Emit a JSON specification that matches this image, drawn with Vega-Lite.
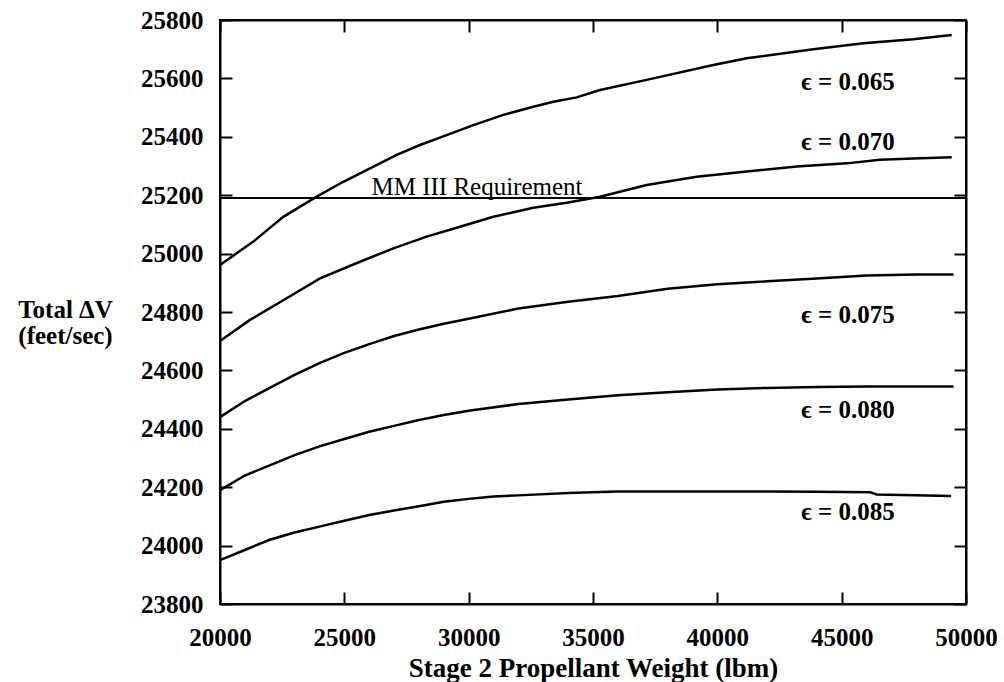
{
  "$schema": "https://vega.github.io/schema/vega-lite/v6.json",
  "width": 746,
  "height": 584,
  "autosize": "none",
  "padding": {"left": 220, "top": 20, "right": 38, "bottom": 78},
  "background": "white",
  "config": {
    "view": {"stroke": "black", "strokeWidth": 2},
    "axis": {
      "domainColor": "black", "domainWidth": 2,
      "tickColor": "black", "tickWidth": 2, "tickSize": -12,
      "grid": false,
      "labelFont": "Liberation Serif", "labelFontWeight": "bold", "labelFontSize": 25, "labelColor": "black",
      "labelOverlap": false, "labelFlush": false,
      "titleFont": "Liberation Serif", "titleFontWeight": "bold", "titleFontSize": 27, "titleColor": "black"
    }
  },
  "datasets": {
    "curves": [
      {"eps": "0.065", "w": 20000, "dv": 24961},
      {"eps": "0.065", "w": 21340, "dv": 25041},
      {"eps": "0.065", "w": 22547, "dv": 25126},
      {"eps": "0.065", "w": 23887, "dv": 25195},
      {"eps": "0.065", "w": 24960, "dv": 25246},
      {"eps": "0.065", "w": 26032, "dv": 25292},
      {"eps": "0.065", "w": 27105, "dv": 25338},
      {"eps": "0.065", "w": 28043, "dv": 25372},
      {"eps": "0.065", "w": 29115, "dv": 25406},
      {"eps": "0.065", "w": 30188, "dv": 25440},
      {"eps": "0.065", "w": 31394, "dv": 25475},
      {"eps": "0.065", "w": 32600, "dv": 25503},
      {"eps": "0.065", "w": 33405, "dv": 25520},
      {"eps": "0.065", "w": 34343, "dv": 25535},
      {"eps": "0.065", "w": 35282, "dv": 25560},
      {"eps": "0.065", "w": 37158, "dv": 25595},
      {"eps": "0.065", "w": 39839, "dv": 25646},
      {"eps": "0.065", "w": 41180, "dv": 25669},
      {"eps": "0.065", "w": 43861, "dv": 25700},
      {"eps": "0.065", "w": 45871, "dv": 25720},
      {"eps": "0.065", "w": 47882, "dv": 25734},
      {"eps": "0.065", "w": 49424, "dv": 25749},

      {"eps": "0.070", "w": 20000, "dv": 24701},
      {"eps": "0.070", "w": 21207, "dv": 24773},
      {"eps": "0.070", "w": 22681, "dv": 24847},
      {"eps": "0.070", "w": 24022, "dv": 24915},
      {"eps": "0.070", "w": 25630, "dv": 24972},
      {"eps": "0.070", "w": 26971, "dv": 25018},
      {"eps": "0.070", "w": 28311, "dv": 25058},
      {"eps": "0.070", "w": 29652, "dv": 25092},
      {"eps": "0.070", "w": 30992, "dv": 25126},
      {"eps": "0.070", "w": 32601, "dv": 25157},
      {"eps": "0.070", "w": 33941, "dv": 25174},
      {"eps": "0.070", "w": 35282, "dv": 25195},
      {"eps": "0.070", "w": 37158, "dv": 25235},
      {"eps": "0.070", "w": 39170, "dv": 25263},
      {"eps": "0.070", "w": 41180, "dv": 25281},
      {"eps": "0.070", "w": 43191, "dv": 25298},
      {"eps": "0.070", "w": 45201, "dv": 25309},
      {"eps": "0.070", "w": 46541, "dv": 25321},
      {"eps": "0.070", "w": 47882, "dv": 25326},
      {"eps": "0.070", "w": 49424, "dv": 25330},

      {"eps": "0.075", "w": 20000, "dv": 24440},
      {"eps": "0.075", "w": 21000, "dv": 24495},
      {"eps": "0.075", "w": 22000, "dv": 24540},
      {"eps": "0.075", "w": 23000, "dv": 24585},
      {"eps": "0.075", "w": 24000, "dv": 24625},
      {"eps": "0.075", "w": 25000, "dv": 24660},
      {"eps": "0.075", "w": 26000, "dv": 24690},
      {"eps": "0.075", "w": 27000, "dv": 24718},
      {"eps": "0.075", "w": 28000, "dv": 24740},
      {"eps": "0.075", "w": 29000, "dv": 24760},
      {"eps": "0.075", "w": 30000, "dv": 24777},
      {"eps": "0.075", "w": 32000, "dv": 24812},
      {"eps": "0.075", "w": 34000, "dv": 24835},
      {"eps": "0.075", "w": 36000, "dv": 24855},
      {"eps": "0.075", "w": 38000, "dv": 24880},
      {"eps": "0.075", "w": 40000, "dv": 24895},
      {"eps": "0.075", "w": 42000, "dv": 24905},
      {"eps": "0.075", "w": 44000, "dv": 24915},
      {"eps": "0.075", "w": 46000, "dv": 24925},
      {"eps": "0.075", "w": 48000, "dv": 24928},
      {"eps": "0.075", "w": 49500, "dv": 24928},

      {"eps": "0.080", "w": 20000, "dv": 24190},
      {"eps": "0.080", "w": 21000, "dv": 24240},
      {"eps": "0.080", "w": 22000, "dv": 24275},
      {"eps": "0.080", "w": 23000, "dv": 24310},
      {"eps": "0.080", "w": 24000, "dv": 24340},
      {"eps": "0.080", "w": 25000, "dv": 24365},
      {"eps": "0.080", "w": 26000, "dv": 24390},
      {"eps": "0.080", "w": 27000, "dv": 24410},
      {"eps": "0.080", "w": 28000, "dv": 24430},
      {"eps": "0.080", "w": 29000, "dv": 24447},
      {"eps": "0.080", "w": 30000, "dv": 24462},
      {"eps": "0.080", "w": 32000, "dv": 24485},
      {"eps": "0.080", "w": 34000, "dv": 24500},
      {"eps": "0.080", "w": 36000, "dv": 24515},
      {"eps": "0.080", "w": 38000, "dv": 24525},
      {"eps": "0.080", "w": 40000, "dv": 24535},
      {"eps": "0.080", "w": 42000, "dv": 24540},
      {"eps": "0.080", "w": 44000, "dv": 24543},
      {"eps": "0.080", "w": 46000, "dv": 24545},
      {"eps": "0.080", "w": 48000, "dv": 24545},
      {"eps": "0.080", "w": 49500, "dv": 24545},

      {"eps": "0.085", "w": 20000, "dv": 23950},
      {"eps": "0.085", "w": 21000, "dv": 23985},
      {"eps": "0.085", "w": 22000, "dv": 24020},
      {"eps": "0.085", "w": 23000, "dv": 24045},
      {"eps": "0.085", "w": 24000, "dv": 24065},
      {"eps": "0.085", "w": 25000, "dv": 24085},
      {"eps": "0.085", "w": 26000, "dv": 24105},
      {"eps": "0.085", "w": 27000, "dv": 24120},
      {"eps": "0.085", "w": 28000, "dv": 24135},
      {"eps": "0.085", "w": 29000, "dv": 24150},
      {"eps": "0.085", "w": 30000, "dv": 24160},
      {"eps": "0.085", "w": 31000, "dv": 24168},
      {"eps": "0.085", "w": 32000, "dv": 24172},
      {"eps": "0.085", "w": 34000, "dv": 24180},
      {"eps": "0.085", "w": 36000, "dv": 24185},
      {"eps": "0.085", "w": 38000, "dv": 24185},
      {"eps": "0.085", "w": 40000, "dv": 24185},
      {"eps": "0.085", "w": 42000, "dv": 24185},
      {"eps": "0.085", "w": 44000, "dv": 24184},
      {"eps": "0.085", "w": 46140, "dv": 24183},
      {"eps": "0.085", "w": 46408, "dv": 24175},
      {"eps": "0.085", "w": 49400, "dv": 24170}
    ],
    "labels": [
      {"text": "ϵ = 0.065", "w": 45254, "dv": 25588},
      {"text": "ϵ = 0.070", "w": 45254, "dv": 25382},
      {"text": "ϵ = 0.075", "w": 45254, "dv": 24790},
      {"text": "ϵ = 0.080", "w": 45254, "dv": 24465},
      {"text": "ϵ = 0.085", "w": 45254, "dv": 24115}
    ]
  },
  "layer": [
    {
      "data": {"name": "curves"},
      "mark": {"type": "line", "color": "black", "strokeWidth": 2.5},
      "encoding": {
        "x": {
          "field": "w", "type": "quantitative",
          "scale": {"domain": [20000, 50000], "nice": false, "zero": false},
          "axis": {
            "orient": "bottom",
            "values": [20000, 25000, 30000, 35000, 40000, 45000, 50000],
            "format": "d", "labelPadding": 33,
            "title": "Stage 2 Propellant Weight (lbm)",
            "titleY": 72, "titleBaseline": "alphabetic"
          }
        },
        "y": {
          "field": "dv", "type": "quantitative",
          "scale": {"domain": [23800, 25800], "nice": false, "zero": false},
          "axis": {
            "orient": "left",
            "values": [23800, 24000, 24200, 24400, 24600, 24800, 25000, 25200, 25400, 25600, 25800],
            "format": "d", "labelPadding": 29,
            "title": ["Total ΔV", "(feet/sec)"],
            "titleFontSize": 25,
            "titleAngle": 0, "titleX": -155, "titleY": 289,
            "titleAlign": "center", "titleBaseline": "middle", "titleLineHeight": 26
          }
        },
        "detail": {"field": "eps"}
      }
    },
    {
      "data": {"values": [{"req": 25190}]},
      "mark": {"type": "rule", "color": "black", "strokeWidth": 2},
      "encoding": {
        "y": {
          "field": "req", "type": "quantitative",
          "axis": {
            "orient": "right",
            "values": [23800, 24000, 24200, 24400, 24600, 24800, 25000, 25200, 25400, 25600, 25800],
            "labels": false, "title": null
          }
        }
      }
    },
    {
      "data": {"values": [{"text": "MM III Requirement", "w": 30335, "dv": 25190}]},
      "mark": {"type": "text", "font": "Liberation Serif", "fontSize": 25, "color": "black", "align": "center", "baseline": "alphabetic", "dy": -3},
      "encoding": {
        "x": {
          "field": "w", "type": "quantitative",
          "axis": {
            "orient": "top",
            "values": [20000, 25000, 30000, 35000, 40000, 45000, 50000],
            "labels": false, "title": null
          }
        },
        "y": {"field": "dv", "type": "quantitative", "axis": null},
        "text": {"field": "text"}
      }
    },
    {
      "data": {"name": "labels"},
      "mark": {"type": "text", "font": "Liberation Serif", "fontWeight": "bold", "fontSize": 25, "color": "black", "align": "center", "baseline": "middle"},
      "encoding": {
        "x": {"field": "w", "type": "quantitative", "axis": null},
        "y": {"field": "dv", "type": "quantitative", "axis": null},
        "text": {"field": "text"}
      }
    }
  ],
  "resolve": {"axis": {"x": "independent", "y": "independent"}}
}
